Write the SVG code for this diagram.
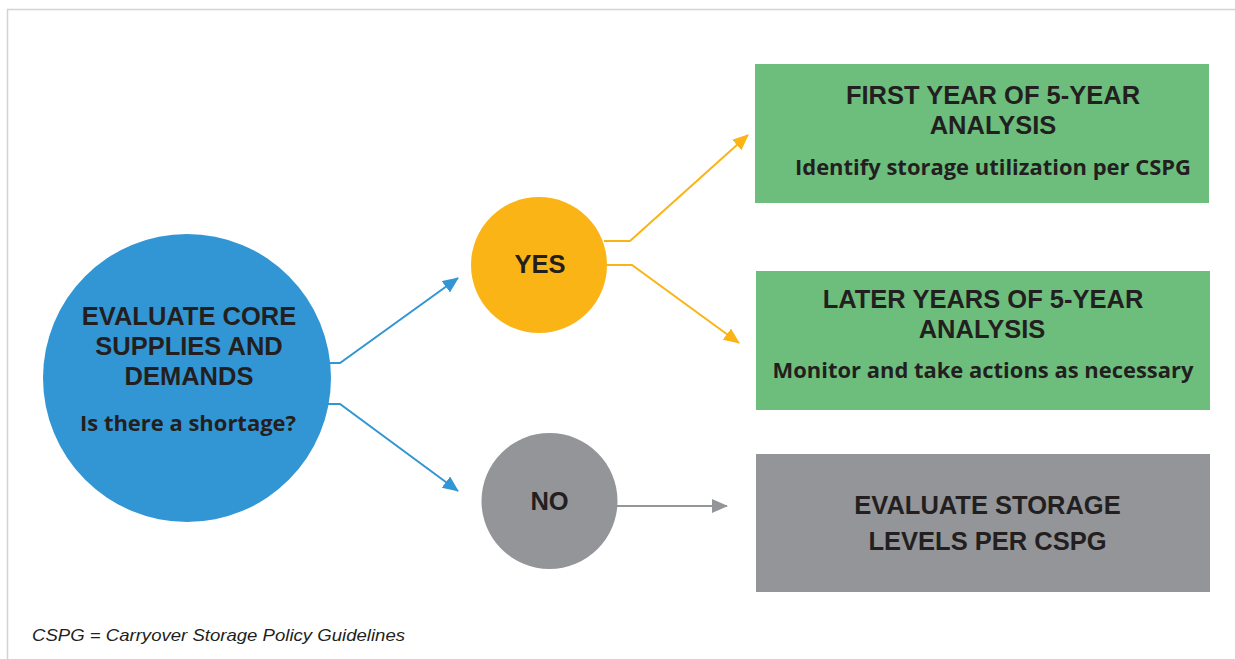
<svg xmlns="http://www.w3.org/2000/svg" width="1235" height="659" viewBox="0 0 1235 659">
<style>
.h{font-family:"Liberation Sans",Arial,sans-serif;font-weight:bold;font-size:25.5px;fill:#231F20;text-anchor:middle}
.b{font-family:"Open Sans","Noto Sans",sans-serif;font-weight:bold;font-size:21px;fill:#231F20;text-anchor:middle}
.c{fill:none;stroke-width:2}
</style>
<defs>
<marker id="ab" markerUnits="userSpaceOnUse" markerWidth="17" markerHeight="15" refX="15" refY="7" orient="auto"><path d="M0,0 L16,7 L0,14 z" fill="#3296D4"/></marker>
<marker id="ay" markerUnits="userSpaceOnUse" markerWidth="17" markerHeight="15" refX="15" refY="7" orient="auto"><path d="M0,0 L16,7 L0,14 z" fill="#FBB416"/></marker>
<marker id="ag" markerUnits="userSpaceOnUse" markerWidth="17" markerHeight="15" refX="15" refY="7" orient="auto"><path d="M0,0 L16,7 L0,14 z" fill="#939598"/></marker>
</defs>
<rect width="1235" height="659" fill="#fff"/>
<path d="M7.5,659 V9.5 H1235" fill="none" stroke="#d3d3d3" stroke-width="1.5"/>
<g id="connectors">
<path class="c" stroke="#3296D4" d="M328,363 H340 L458,278" marker-end="url(#ab)"/>
<path class="c" stroke="#3296D4" d="M328,404 H340 L458,491" marker-end="url(#ab)"/>
<path class="c" stroke="#FBB416" d="M604,241 H630 L748,135" marker-end="url(#ay)"/>
<path class="c" stroke="#FBB416" d="M604,265 H632 L739,343" marker-end="url(#ay)"/>
<path class="c" stroke="#939598" d="M615,506 H727" marker-end="url(#ag)"/>
</g>
<g id="evaluate-core">
<circle cx="187" cy="378" r="144" fill="#3296D4"/>
<text class="h" x="189" y="325">EVALUATE CORE</text>
<text class="h" x="189" y="355">SUPPLIES AND</text>
<text class="h" x="189" y="385">DEMANDS</text>
<text class="b" x="188" y="431" textLength="216" lengthAdjust="spacingAndGlyphs">Is there a shortage?</text>
</g>
<g id="yes">
<circle cx="539" cy="265" r="68" fill="#FBB416"/>
<text class="h" x="540" y="273">YES</text>
</g>
<g id="no">
<circle cx="549.5" cy="501" r="68" fill="#939598"/>
<text class="h" x="549.5" y="510">NO</text>
</g>
<g id="first-year">
<rect x="755" y="64" width="454" height="139" fill="#6DBE7D"/>
<text class="h" x="993" y="104">FIRST YEAR OF 5-YEAR</text>
<text class="h" x="993" y="134">ANALYSIS</text>
<text class="b" x="993" y="175" textLength="396" lengthAdjust="spacingAndGlyphs">Identify storage utilization per CSPG</text>
</g>
<g id="later-years">
<rect x="756" y="271" width="454" height="139" fill="#6DBE7D"/>
<text class="h" x="983" y="308">LATER YEARS OF 5-YEAR</text>
<text class="h" x="982" y="338">ANALYSIS</text>
<text class="b" x="983" y="378" textLength="421" lengthAdjust="spacingAndGlyphs">Monitor and take actions as necessary</text>
</g>
<g id="evaluate-storage">
<rect x="756" y="454" width="454" height="138" fill="#939598"/>
<text class="h" x="987.5" y="514">EVALUATE STORAGE</text>
<text class="h" x="987.5" y="550">LEVELS PER CSPG</text>
</g>
<text x="32" y="641" font-family="'Liberation Sans',Arial,sans-serif" font-style="italic" font-size="16.5" fill="#231F20" textLength="373" lengthAdjust="spacingAndGlyphs">CSPG = Carryover Storage Policy Guidelines</text>
</svg>
